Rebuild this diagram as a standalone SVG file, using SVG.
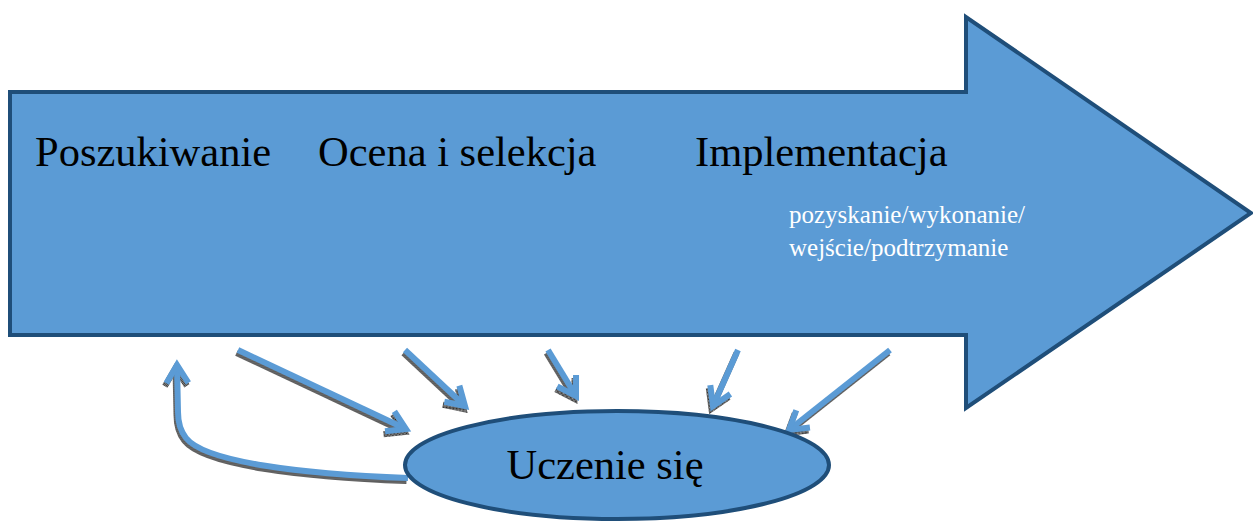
<svg xmlns="http://www.w3.org/2000/svg" width="1253" height="522" viewBox="0 0 1253 522">
<defs>
<style>
.shape{fill:#5B9BD5;stroke:#1F4E79;stroke-width:4;}
.big{font-family:'Liberation Serif','Times New Roman','DejaVu Serif',serif;font-size:42.5px;fill:#000;}
.small{font-family:'Liberation Serif','Times New Roman','DejaVu Serif',serif;font-size:25px;fill:#fff;}
.conn{fill:none;stroke:#5B9BD5;stroke-width:6;marker-end:url(#ah);}
.shadow{fill:none;stroke:url(#hatch);stroke-width:6;marker-end:url(#ahs);}
</style>
<pattern id="hatch" patternUnits="userSpaceOnUse" width="2" height="2">
<rect width="2" height="2" fill="#9a9a9a"/>
<rect width="1" height="1" fill="#222"/>
<rect x="1" y="1" width="1" height="1" fill="#333"/>
</pattern>
<marker id="ah" markerUnits="userSpaceOnUse" viewBox="-26 -16 32 32" refX="0" refY="0" markerWidth="32" markerHeight="32" orient="auto" overflow="visible">
<path d="M -18 -11 L 0 0 L -18 11" fill="none" stroke="#5B9BD5" stroke-width="6"/>
</marker>
<marker id="ahs" markerUnits="userSpaceOnUse" viewBox="-26 -16 32 32" refX="0" refY="0" markerWidth="32" markerHeight="32" orient="auto" overflow="visible">
<path d="M -18 -11 L 0 0 L -18 11" fill="none" stroke="url(#hatch)" stroke-width="6"/>
</marker>
</defs>
<g id="process-arrow">
<path class="shape" d="M 10 92 L 966 92 L 966 17 L 1251 213 L 966 408 L 966 335 L 10 335 Z"/>
<text class="big" x="35" y="166">Poszukiwanie</text>
<text class="big" x="318" y="166">Ocena i selekcja</text>
<text class="big" x="695" y="166">Implementacja</text>
<text class="small" x="789" y="223">pozyskanie/wykonanie/</text>
<text class="small" x="789" y="256">wejście/podtrzymanie</text>
</g>
<g id="connectors">
<g transform="translate(-1.5,3)">
<path class="shadow" d="M 238 350 L 406 429"/>
<path class="shadow" d="M 405 350 L 465 406"/>
<path class="shadow" d="M 548 350 L 576 396"/>
<path class="shadow" d="M 738 350 L 713 406"/>
<path class="shadow" d="M 890 350 L 789 430"/>
<path class="shadow" d="M 408 478 C 300 474, 205 462, 186 438 Q 178 428 178 412 L 177 365"/>
</g>
<path class="conn" d="M 238 350 L 406 429"/>
<path class="conn" d="M 405 350 L 465 406"/>
<path class="conn" d="M 548 350 L 576 396"/>
<path class="conn" d="M 738 350 L 713 406"/>
<path class="conn" d="M 890 350 L 789 430"/>
<path class="conn" d="M 408 478 C 300 474, 205 462, 186 438 Q 178 428 178 412 L 177 365"/>
</g>
<g id="learning">
<ellipse class="shape" cx="617" cy="465" rx="212" ry="54"/>
<text class="big" x="605" y="479" text-anchor="middle">Uczenie się</text>
</g>
</svg>
